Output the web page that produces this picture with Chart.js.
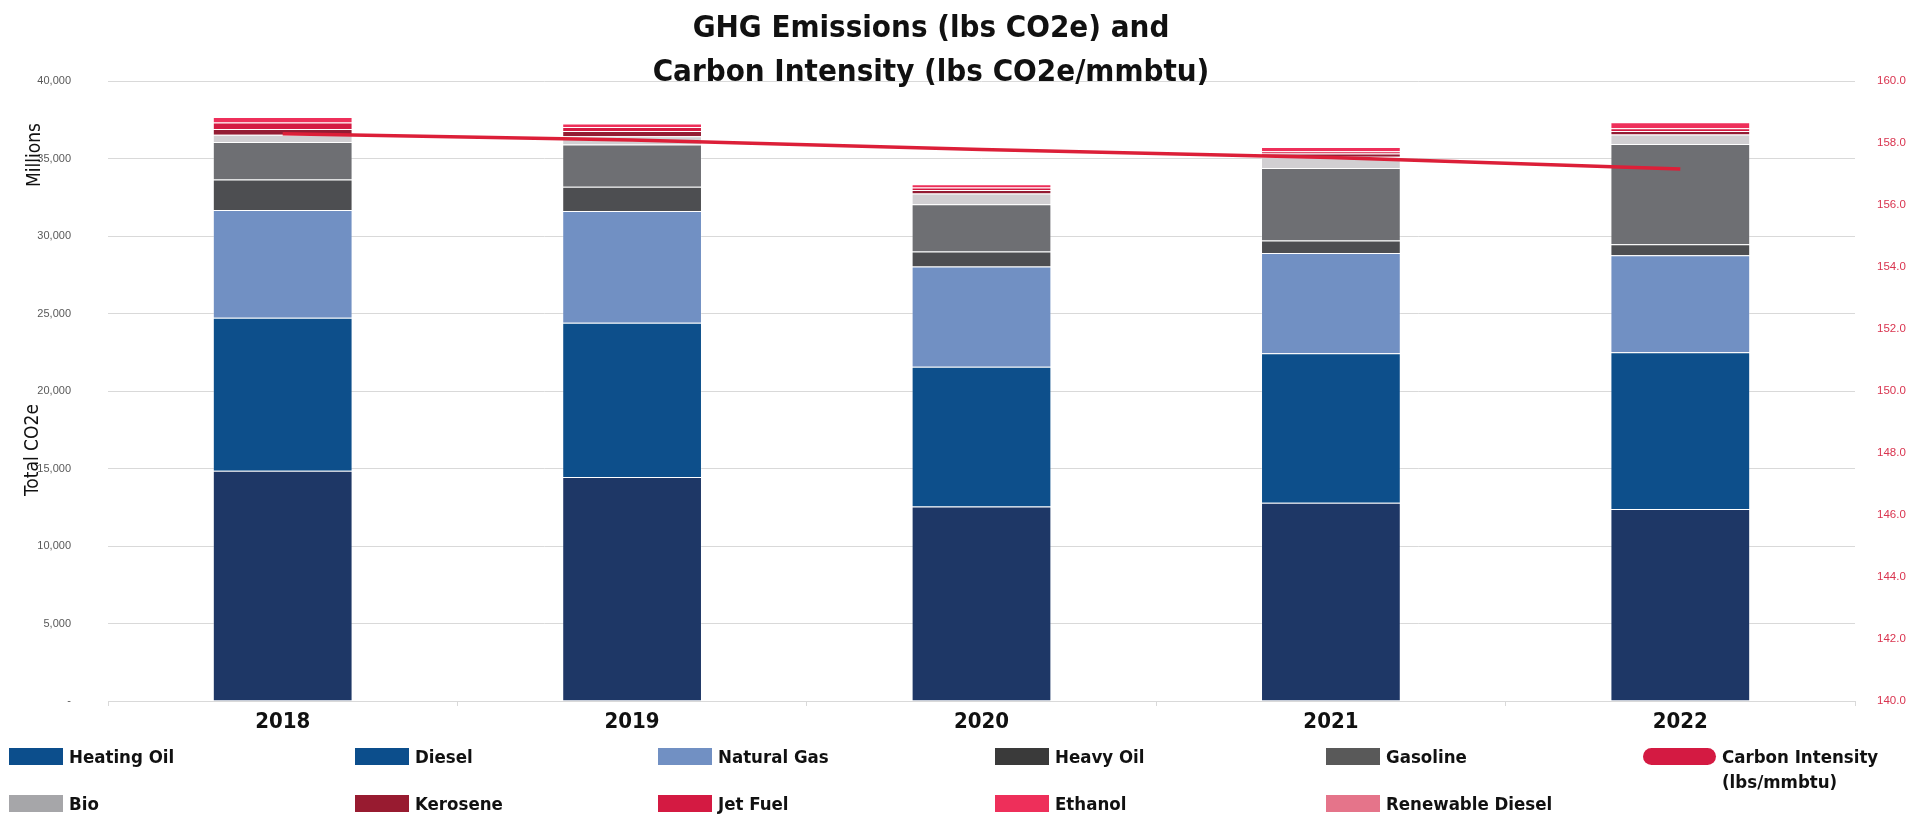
<!DOCTYPE html>
<html>
<head>
<meta charset="utf-8">
<title>GHG Emissions and Carbon Intensity</title>
<script src="https://cdn.jsdelivr.net/npm/chart.js@4.4.1/dist/chart.umd.min.js"></script>
<style>
  html, body { margin: 0; padding: 0; background: #fff; overflow: hidden; }
  #wrap { position: relative; width: 1924px; height: 817px; }
  #chart { position: absolute; left: 0; top: 0; }
  #title {
    position: absolute; left: 0; top: 4px; width: 1862px;
    text-align: center; color: #111;
    font: bold 31px/44px "DejaVu Sans Condensed", Roboto, sans-serif;
  }
  .item {
    position: absolute; display: flex; align-items: flex-start;
    font: bold 18.5px/25px "DejaVu Sans Condensed", Roboto, sans-serif;
    color: #111;
  }
  .swatch { width: 54px; height: 17px; margin: 4px 6px 0 0; flex: none; }
  .pill { width: 73px; border-radius: 9px; }
</style>
</head>
<body>
<div id="wrap">
  <canvas id="chart" width="1924" height="817"></canvas>
  <div id="title">GHG Emissions (lbs CO2e) and<br>Carbon Intensity (lbs CO2e/mmbtu)</div>
  <div id="legend"></div>
</div>
<script>
// years and emissions by fuel, millions of lbs CO2e
var years = ['2018', '2019', '2020', '2021', '2022'];
var heatingOil      = [14850, 14450, 12545, 12785, 12390];
var diesel          = [9870, 9960, 9015, 9645, 10115];
var naturalGas      = [6960, 7200, 6480, 6480, 6250];
var heavyOil        = [1965, 1565, 955, 795, 710];
var gasoline        = [2420, 2730, 3060, 4690, 6475];
var bio             = [475, 535, 690, 710, 605];
var kerosene        = [360, 340, 215, 220, 230];
var jetFuel         = [430, 260, 175, 150, 175];
var ethanol         = [340, 220, 210, 260, 385];
var renewableDiesel = [0, 0, 0, 0, 0];
// lbs CO2e per mmbtu
var carbonIntensity = [158.30, 158.10, 157.79, 157.53, 157.16];

var leftTicks = { min: 0, max: 40000, step: 5000 };
var rightTicks = { min: 140, max: 160, step: 2 };

var FONT = '"DejaVu Sans Condensed", Roboto, sans-serif';
var SMALL = '"Liberation Sans", Arial, sans-serif';

var fuels = [
    { label: 'Heating Oil', data: heatingOil, color: '#1e3766', key: '#0c4e8c' },
    { label: 'Diesel', data: diesel, color: '#0d4f8b', key: '#0c4e8c' },
    { label: 'Natural Gas', data: naturalGas, color: '#7190c3', key: '#7190c3' },
    { label: 'Heavy Oil', data: heavyOil, color: '#4d4e51', key: '#3a3a3a' },
    { label: 'Gasoline', data: gasoline, color: '#6e6f73', key: '#595959' },
    { label: 'Bio', data: bio, color: '#d1cfd2', key: '#a6a6a9' },
    { label: 'Kerosene', data: kerosene, color: '#941c33', key: '#981b30' },
    { label: 'Jet Fuel', data: jetFuel, color: '#d41a42', key: '#d41a42' },
    { label: 'Ethanol', data: ethanol, color: '#ee2f5a', key: '#ee2f5a' },
    { label: 'Renewable Diesel', data: renewableDiesel, color: '#e5748a', key: '#e5748a' }
];

var datasets = fuels.map(function (f) {
    return {
        type: 'bar',
        label: f.label,
        data: f.data,
        backgroundColor: f.color,
        borderColor: 'rgba(255, 255, 255, 0.22)',
        borderWidth: 1,
        barPercentage: 0.4,
        categoryPercentage: 1,
        yAxisID: 'y',
        order: 1
    };
});
datasets.push({
    type: 'line',
    label: 'Carbon Intensity (lbs/mmbtu)',
    data: carbonIntensity,
    borderColor: '#dc1f38',
    backgroundColor: '#d41a42',
    borderWidth: 3.5,
    pointRadius: 0,
    tension: 0,
    yAxisID: 'y1',
    order: 0
});

// rotated labels on the left of the value axis
var sideLabels = {
    id: 'sideLabels',
    afterDraw: function (chart) {
        var ctx = chart.ctx;
        [['Millions', 35, 155], ['Total CO2e', 33, 450]].forEach(function (t) {
            ctx.save();
            ctx.translate(t[1], t[2]);
            ctx.rotate(-Math.PI / 2);
            ctx.font = '19px ' + FONT;
            ctx.fillStyle = '#111';
            ctx.textAlign = 'center';
            ctx.textBaseline = 'middle';
            ctx.fillText(t[0], 0, 0);
            ctx.restore();
        });
    }
};

var ctx = document.getElementById('chart').getContext('2d');
var chart = new Chart(ctx, {
    data: { labels: years, datasets: datasets },
    plugins: [sideLabels],
    options: {
        responsive: false,
        animation: false,
        layout: { padding: { top: 81, bottom: 76, left: 0, right: 0 } },
        plugins: {
            legend: { display: false },
            title: { display: false },
            tooltip: { enabled: false }
        },
        scales: {
            x: {
                stacked: true,
                grid: { offset: true, drawOnChartArea: false, drawTicks: true, tickLength: 5, color: '#d9d9d9' },
                border: { color: '#d9d9d9' },
                ticks: { padding: 3, color: '#111', font: { family: FONT, size: 22, weight: 'bold' } },
                afterFit: function (s) { s.height = 40; }
            },
            y: {
                stacked: true,
                position: 'left',
                min: leftTicks.min,
                max: leftTicks.max,
                grid: { color: '#d9d9d9', drawTicks: false },
                border: { display: false },
                ticks: {
                    stepSize: leftTicks.step,
                    padding: 37,
                    color: '#595959',
                    font: { family: SMALL, size: 11 },
                    callback: function (v) { return v === 0 ? '-' : v.toLocaleString('en-US'); }
                },
                afterFit: function (s) { s.width = 108; }
            },
            y1: {
                position: 'right',
                min: rightTicks.min,
                max: rightTicks.max,
                grid: { drawOnChartArea: false, drawTicks: false },
                border: { display: false },
                ticks: {
                    stepSize: rightTicks.step,
                    padding: 22,
                    color: '#d9344f',
                    font: { family: SMALL, size: 11.5 },
                    callback: function (v) { return v.toFixed(1); }
                },
                afterFit: function (s) { s.width = 69; }
            }
        }
    }
});

// legend laid out in two rows under the axis
var legendCols = [9, 355, 658, 995, 1326, 1643];
var legendRows = [744, 791];
var legendOrder = [
    ['Heating Oil', 0, 0], ['Diesel', 1, 0], ['Natural Gas', 2, 0], ['Heavy Oil', 3, 0], ['Gasoline', 4, 0],
    ['Carbon Intensity', 5, 0],
    ['Bio', 0, 1], ['Kerosene', 1, 1], ['Jet Fuel', 2, 1], ['Ethanol', 3, 1], ['Renewable Diesel', 4, 1]
];
var legend = document.getElementById('legend');
legendOrder.forEach(function (e) {
    var item = document.createElement('div');
    item.className = 'item';
    item.style.left = legendCols[e[1]] + 'px';
    item.style.top = legendRows[e[2]] + 'px';
    var sw = document.createElement('span');
    sw.className = 'swatch';
    var txt = document.createElement('span');
    if (e[0] === 'Carbon Intensity') {
        sw.className += ' pill';
        sw.style.background = '#d41a42';
        txt.innerHTML = 'Carbon Intensity<br>(lbs/mmbtu)';
    } else {
        var f = fuels.filter(function (x) { return x.label === e[0]; })[0];
        sw.style.background = f.key;
        txt.textContent = f.label;
    }
    item.appendChild(sw);
    item.appendChild(txt);
    legend.appendChild(item);
});
</script>
</body>
</html>
